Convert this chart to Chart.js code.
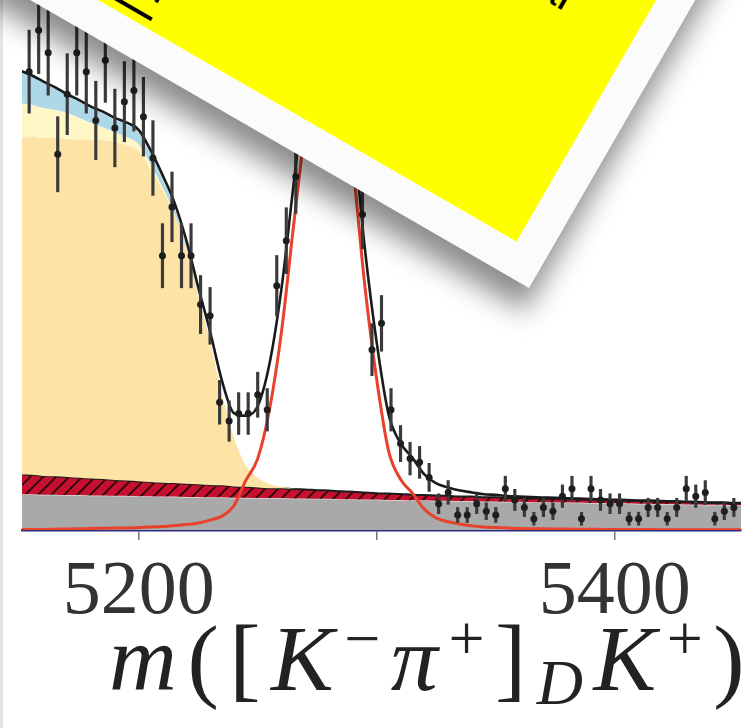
<!DOCTYPE html>
<html lang="en">
<head>
<meta charset="UTF-8">
<title>B to DK invariant mass fit</title>
<script src="https://cdn.jsdelivr.net/npm/chart.js"></script>
<style>
  html, body { margin: 0; padding: 0; background: #fff; }
  #wrap { position: relative; width: 753px; height: 728px; overflow: hidden; background: #fff; }
  #massChart { position: absolute; left: 0; top: 0; }
  .edge { position: absolute; left: 0; top: 0; width: 3px; height: 728px; background: #e4e4ec; }
  .axis-title {
    position: absolute; left: 109px; top: 611px;
    font-family: 'Liberation Serif', serif; font-size: 94px; line-height: 94px;
    letter-spacing: 10.5px; color: #222; white-space: nowrap;
  }
  .axis-title .sup { position: relative; top: -30px; font-size: 64px; }
  .axis-title .sub { position: relative; top: 14px; font-size: 64px; }
  .note {
    position: absolute; left: -371px; top: -232px; width: 900px; height: 520px;
    box-sizing: border-box; border: 34px solid #fbfbfb; background: #ffff00;
    transform-origin: 100% 100%; transform: rotate(30deg);
    box-shadow: 8px 22px 26px rgba(0, 0, 0, 0.45);
    font-family: 'Liberation Sans', sans-serif; font-size: 46px; line-height: 46px; color: #000;
  }
  .note div { position: absolute; white-space: nowrap; }
  .note u { text-decoration-thickness: 4px; text-underline-offset: 15px; }
</style>
</head>
<body>
<div id="wrap">
  <canvas id="massChart" width="753" height="728"></canvas>
  <div class="edge"></div>
  <div class="note">
    <div style="right:74px; top:190px;">Large DK signal</div>
    <div style="right:420px; top:285px;">seen in the</div>
    <div style="right:427px; top:386px;"><u>favoured</u></div>
  </div>
  <div class="axis-title"><i>m</i>([<i>K</i><span class="sup">−</span><i>π</i><span class="sup">+</span>]<span class="sub"><i>D</i></span><i>K</i><span class="sup">+</span>)</div>
</div>

<script>
  // fit components, candidates per 4 MeV, sampled every 5 MeV
  const massGrid = [
    5150, 5155, 5160, 5165, 5170, 5175, 5180, 5185, 5190, 5195,
    5200, 5205, 5210, 5215, 5220, 5225, 5230, 5235, 5240, 5245,
    5250, 5255, 5260, 5265, 5270, 5275, 5280, 5285, 5290, 5295,
    5300, 5305, 5310, 5315, 5320, 5325, 5330, 5335, 5340, 5345,
    5350, 5355, 5360, 5365, 5370, 5375, 5380, 5385, 5390, 5395,
    5400, 5405, 5410, 5415, 5420, 5425, 5430, 5435, 5440, 5445,
    5450, 5455
  ];
  const combinatorial = [
    9.5, 9.5, 9.4, 9.4, 9.3, 9.3, 9.2, 9.2, 9.1, 9.1,
    9.0, 9.0, 8.9, 8.9, 8.8, 8.8, 8.7, 8.7, 8.6, 8.6,
    8.5, 8.5, 8.5, 8.4, 8.4, 8.3, 8.3, 8.2, 8.2, 8.1,
    8.1, 8.0, 8.0, 7.9, 7.9, 7.8, 7.8, 7.7, 7.7, 7.6,
    7.6, 7.5, 7.5, 7.4, 7.4, 7.4, 7.3, 7.3, 7.2, 7.2,
    7.1, 7.1, 7.0, 7.0, 6.9, 6.9, 6.8, 6.8, 6.7, 6.7,
    6.6, 6.6
  ];
  const misIdDPi = [
    5.3, 5.2, 5.0, 4.9, 4.8, 4.6, 4.5, 4.4, 4.2, 4.1,
    4.0, 3.8, 3.7, 3.6, 3.5, 3.4, 3.3, 3.2, 3.0, 2.9,
    2.8, 2.6, 2.6, 2.5, 2.4, 2.3, 2.2, 2.1, 2.0, 1.9,
    1.7, 1.7, 1.6, 1.5, 1.4, 1.4, 1.3, 1.2, 1.2, 1.1,
    1.1, 1.0, 1.0, 1.0, 0.95, 0.9, 0.9, 0.85, 0.85, 0.8,
    0.8, 0.77, 0.74, 0.71, 0.69, 0.66, 0.63, 0.6, 0.58, 0.55,
    0.53, 0.53
  ];
  const partRecoMain = [
    89.6, 89.9, 90.0, 90.1, 90.0, 90.0, 90.1, 90.2, 90.0, 89.3,
    87.8, 83.3, 77.8, 71.6, 62.5, 50.3, 38.1, 24.1, 13.0, 5.7,
    2.7, 1.1, 0.4, 0.1, 0, 0, 0, 0, 0, 0,
    0, 0, 0, 0, 0, 0, 0, 0, 0, 0,
    0, 0, 0, 0, 0, 0, 0, 0, 0, 0,
    0, 0, 0, 0, 0, 0, 0, 0, 0, 0,
    0, 0
  ];
  const partRecoLow = [
    9.2, 8.6, 7.9, 7.4, 6.9, 5.8, 4.5, 3.4, 2.5, 2.1,
    1.85, 1.3, 0.8, 0.3, 0.08, 0, 0, 0, 0, 0,
    0, 0, 0, 0, 0, 0, 0, 0, 0, 0,
    0, 0, 0, 0, 0, 0, 0, 0, 0, 0,
    0, 0, 0, 0, 0, 0, 0, 0, 0, 0,
    0, 0, 0, 0, 0, 0, 0, 0, 0, 0,
    0, 0
  ];
  const partRecoHigh = [
    8.6, 7.7, 6.9, 5.8, 4.75, 4.4, 4.0, 3.7, 3.4, 3.3,
    3.2, 2.9, 2.4, 1.6, 0.8, 0.3, 0.08, 0, 0, 0,
    0, 0, 0, 0, 0, 0, 0, 0, 0, 0,
    0, 0, 0, 0, 0, 0, 0, 0, 0, 0,
    0, 0, 0, 0, 0, 0, 0, 0, 0, 0,
    0, 0, 0, 0, 0, 0, 0, 0, 0, 0,
    0, 0
  ];
  const signalDK = [
    0.1, 0.13, 0.16, 0.2, 0.26, 0.32, 0.4, 0.45, 0.5, 0.53,
    0.66, 0.8, 0.92, 1.19, 1.45, 1.85, 2.64, 3.7, 6.5, 13.2,
    19.0, 32.2, 52.8, 80.6, 107, 125.5, 131.3, 122.8, 97, 65,
    40, 21, 13.5, 9.8, 5.5, 3.2, 2.2, 1.6, 1.1, 0.8,
    0.66, 0.53, 0.4, 0.35, 0.3, 0.27, 0.24, 0.2, 0.18, 0.16,
    0.14, 0.12, 0.11, 0.1, 0.09, 0.08, 0.07, 0.06, 0.05, 0.05,
    0.04, 0.04
  ];

  // data histogram, 4 MeV bins
  const binCentres = [
    5154, 5158, 5162, 5166, 5170, 5174, 5178, 5182, 5186, 5190,
    5194, 5198, 5202, 5206, 5210, 5214, 5218, 5222, 5226, 5230,
    5234, 5238, 5242, 5246, 5250, 5254, 5258, 5262, 5266, 5270,
    5274, 5278, 5282, 5286, 5290, 5294, 5298, 5302, 5306, 5310,
    5314, 5318, 5322, 5326, 5330, 5334, 5338, 5342, 5346, 5350,
    5354, 5358, 5362, 5366, 5370, 5374, 5378, 5382, 5386, 5390,
    5394, 5398, 5402, 5406, 5410, 5414, 5418, 5422, 5426, 5430,
    5434, 5438, 5442, 5446, 5450
  ];
  const binCounts = [
    122, 133, 127, 100, 116, 127, 122, 109, 125, 107,
    114, 117, 110, 99, 73, 86, 73, 73, 60, 57,
    34, 29, 31, 31, 36, 32, 65, 77, 94, 117,
    131, 140, 138, 127, 106, 84, 48, 55, 32, 23,
    19, 18, 14, 7, 10, 4, 4, 7, 5, 4,
    11, 8, 6, 3, 6, 5, 9, 11, 3, 11,
    8, 7, 7, 3, 3, 6, 6, 3, 6, 11,
    9, 10, 3, 5, 6
  ];

  const tickValues = [5200, 5300, 5400];
  const tickLabels = ['5200', '', '5400'];

  // red fill with black diagonal hatching for the mis-ID band
  function hatch() {
    const c = document.createElement('canvas');
    c.width = 13; c.height = 13;
    const g = c.getContext('2d');
    g.fillStyle = '#c5102f';
    g.fillRect(0, 0, 13, 13);
    g.strokeStyle = '#2a0808';
    g.lineWidth = 1.8;
    g.beginPath();
    g.moveTo(0, 13); g.lineTo(13, 0);
    g.moveTo(-3, 3); g.lineTo(3, -3);
    g.moveTo(10, 16); g.lineTo(16, 10);
    g.stroke();
    return g.createPattern(c, 'repeat');
  }

  // stack the background components on top of each other
  const layers = [combinatorial, misIdDPi, partRecoMain, partRecoLow, partRecoHigh];
  const stacked = [];
  let running = massGrid.map(() => 0);
  layers.forEach(arr => {
    running = running.map((v, i) => v + arr[i]);
    stacked.push(running);
  });
  const totalFit = running.map((v, i) => v + signalDK[i]);

  const toXY = arr => massGrid.map((m, i) => ({ x: m, y: arr[i] }));
  const layerStyle = [
    { bg: '#a9a9a9', border: '#dcdcdc', width: 1.5 },
    { bg: hatch(), border: '#1c1c1c', width: 2 },
    { bg: '#fde3a6', border: 'rgba(0,0,0,0)', width: 0 },
    { bg: '#fff6c6', border: 'rgba(0,0,0,0)', width: 0 },
    { bg: '#add8e8', border: 'rgba(0,0,0,0)', width: 0 }
  ];

  const datasets = stacked.map((arr, i) => ({
    type: 'line',
    data: toXY(arr),
    backgroundColor: layerStyle[i].bg,
    borderColor: layerStyle[i].border,
    borderWidth: layerStyle[i].width,
    fill: i === 0 ? 'origin' : '-1',
    pointRadius: 0,
    cubicInterpolationMode: 'monotone',
    order: 10 - i
  }));

  datasets.push({
    type: 'line',
    data: toXY(signalDK),
    borderColor: '#e8412c',
    borderWidth: 3,
    fill: false,
    pointRadius: 0,
    cubicInterpolationMode: 'monotone',
    order: 3
  });
  datasets.push({
    type: 'line',
    data: toXY(totalFit),
    borderColor: '#1a1a1a',
    borderWidth: 2.6,
    fill: false,
    pointRadius: 0,
    cubicInterpolationMode: 'monotone',
    order: 2
  });
  // Poisson error bars as floating bars
  datasets.push({
    type: 'bar',
    data: binCentres.map((m, i) => {
      const e = Math.sqrt(binCounts[i]);
      return { x: m, y: [binCounts[i] - e, binCounts[i] + e] };
    }),
    backgroundColor: '#3a3a3a',
    barThickness: 2.5,
    grouped: false,
    order: 1
  });
  datasets.push({
    type: 'scatter',
    data: binCentres.map((m, i) => ({ x: m, y: binCounts[i] })),
    pointRadius: 3.5,
    pointBackgroundColor: '#1e1e1e',
    pointBorderWidth: 0,
    showLine: false,
    order: 0
  });

  new Chart(document.getElementById('massChart'), {
    type: 'line',
    data: { datasets },
    options: {
      responsive: false,
      animation: false,
      layout: { padding: { left: 22, right: 12, top: 0, bottom: 0 } },
      plugins: { legend: { display: false }, tooltip: { enabled: false } },
      scales: {
        x: {
          type: 'linear',
          min: 5151,
          max: 5453,
          offset: false,
          afterBuildTicks: s => { s.ticks = tickValues.map(v => ({ value: v })); },
          afterFit: s => { s.height = 198; },
          ticks: {
            autoSkip: false,
            maxRotation: 0,
            padding: 7,
            color: '#333',
            font: { family: 'Liberation Serif', size: 76 },
            callback: v => tickLabels[tickValues.indexOf(v)] || ''
          },
          grid: { offset: false, drawOnChartArea: false, drawTicks: true, tickLength: 10, color: '#777', lineWidth: 1.5 },
          border: { display: true, color: '#2d2d80', width: 2.5 }
        },
        y: { display: false, min: 0, max: 140 }
      }
    }
  });
</script>
</body>
</html>
